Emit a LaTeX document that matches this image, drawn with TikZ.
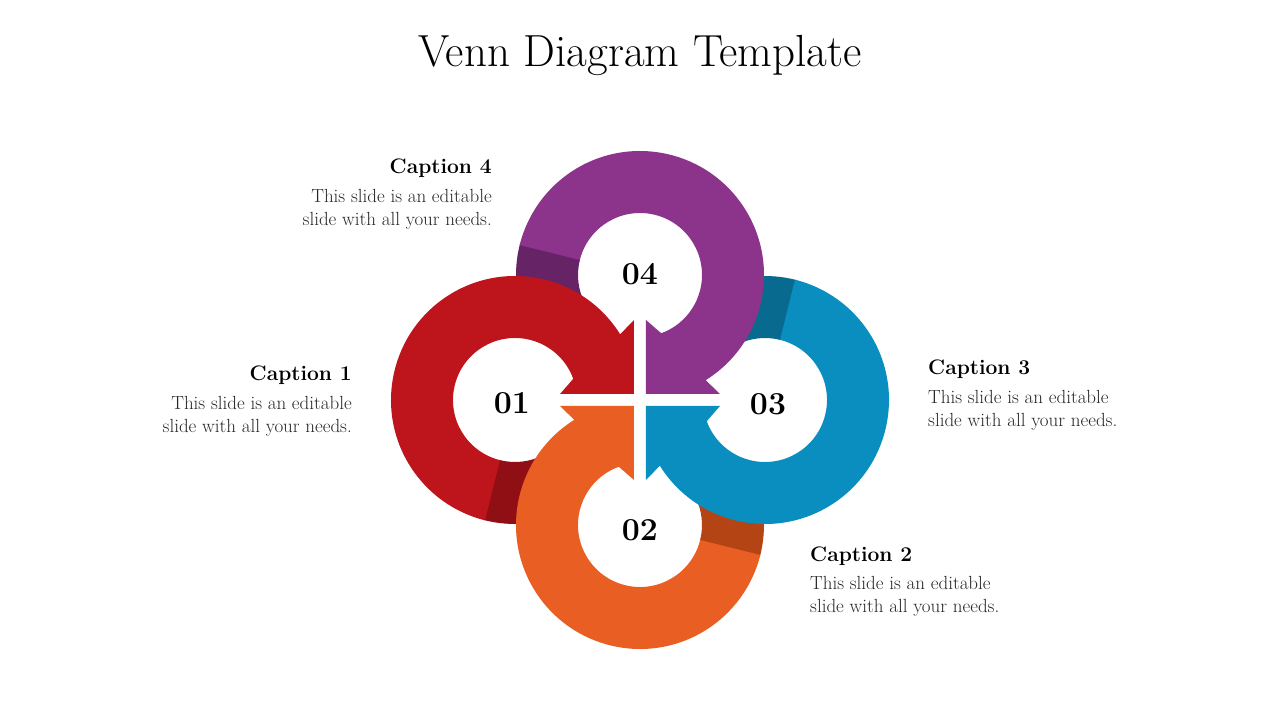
\documentclass[tikz,border=0pt]{standalone}
\usepackage{fontspec}
\usepackage{tikz}
\usetikzlibrary{positioning,calc}
\definecolor{cred}{HTML}{BE151D}
\definecolor{dred}{HTML}{8F0F14}
\definecolor{cpurple}{HTML}{8C338C}
\definecolor{dpurple}{HTML}{662366}
\definecolor{cblue}{HTML}{0A8DBF}
\definecolor{dblue}{HTML}{086A8E}
\definecolor{corange}{HTML}{E85E23}
\definecolor{dorange}{HTML}{B54414}
\begin{document}
\begin{tikzpicture}
    [
      x=1pt, y=1pt,
      num/.style={font=\fontsize{32}{32}\selectfont\bfseries\addfontfeatures{Numbers=OldStyle}},
      captext/.style={font=\fontsize{21}{21}\selectfont\bfseries, inner sep=0pt},
      body/.style={font=\fontsize{19}{23}\selectfont, text=black!85, inner sep=0pt}
    ]
    \useasboundingbox (-640,-320) rectangle (640,400);
    % shaded tails first
    \foreach \k/\dk in {0/dred,1/dpurple,2/dblue,3/dorange}
      \fill [\dk, rotate=-90*\k] ([shift={(255:124)}]-125,0) arc[start angle=255, end angle=298, radius=124]
        -- ([shift={(298:62)}]-125,0) arc[start angle=298, end angle=255, radius=62] -- cycle;
    % ring bodies with arrow ends
    \foreach \k/\ck in {0/cred,1/cpurple,2/cblue,3/corange}
      \fill [\ck, rotate=-90*\k] ([shift={(20:62)}]-125,0) -- (-80,6) -- (-6,6) -- (-6,80)
        -- ([shift={(32:124)}]-125,0) arc[start angle=32, end angle=256, radius=124]
        -- ([shift={(256:62)}]-125,0) arc[start angle=256, end angle=20, radius=62] -- cycle;
    \node (title) at (0,345) {\fontsize{45}{45}\selectfont Venn Diagram Template};
    \node (n1) [num] at (-128,-3) {01};
    \node (n2) [num] at (0,-130) {02};
    \node (n3) [num] at (128,-4) {03};
    \node (n4) [num] at (0,126) {04};
    \node (c4) [captext, anchor=base east] at (-148,226) {Caption 4};
    \node (t4) [body, align=right, below=11pt of c4.south east, anchor=north east] {This slide is an editable\\slide with all your needs.};
    \node (c1) [captext, anchor=base east] at (-288,19) {Caption 1};
    \node (t1) [body, align=right, below=11pt of c1.south east, anchor=north east] {This slide is an editable\\slide with all your needs.};
    \node (c3) [captext, anchor=base west] at (288,25) {Caption 3};
    \node (t3) [body, align=left, below=11pt of c3.south west, anchor=north west] {This slide is an editable\\slide with all your needs.};
    \node (c2) [captext, anchor=base west] at (170,-161) {Caption 2};
    \node (t2) [body, align=left, below=11pt of c2.south west, anchor=north west] {This slide is an editable\\slide with all your needs.};
\end{tikzpicture}
\end{document}
